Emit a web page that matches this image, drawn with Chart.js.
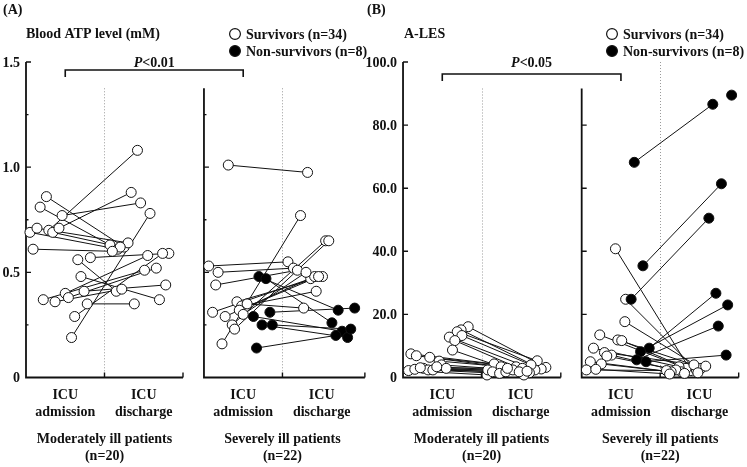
<!DOCTYPE html>
<html><head><meta charset="utf-8">
<script src="https://cdn.jsdelivr.net/npm/chart.js@4/dist/chart.umd.min.js"></script>
<style>html,body{margin:0;padding:0;background:#fff;}canvas{display:block;}</style>
</head><body>
<canvas id="c" width="747" height="467"></canvas>
<script>
// ---------- text ----------
const panelTags = ['(A)', '(B)'];
const panelTitles = ['Blood ATP level (mM)', 'A-LES'];
const pLabels = ['<0.01', '<0.05'];
const legendLabels = ['Survivors (n=34)', 'Non-survivors (n=8)'];
const catLabels = [['ICU', 'admission'], ['ICU', 'discharge']];
const groupLabels = [['Moderately ill patients', '(n=20)'], ['Severely ill patients', '(n=22)']];
const atpTicks = [0, 0.5, 1.0, 1.5];
const atpTickLabels = ['0', '0.5', '1.0', '1.5'];
const atpMinor = [0.25, 0.75, 1.25];
const alesTicks = [0, 20, 40, 60, 80, 100];
const alesTickLabels = ['0', '20.0', '40.0', '60.0', '80.0', '100.0'];

// ---------- data: (A) blood ATP, moderately ill, survivors ----------
// X arrays: horizontal jitter within the category band (band width = 1)
const atpModAdm  = [0.86,0.81,0.77,0.69,0.71,0.70,0.69,0.71,0.61,0.56,0.57,0.48,0.41,0.40,0.38,0.37,0.36,0.35,0.29,0.19];
const atpModDis  = [0.62,0.63,0.83,0.61,0.64,1.08,0.62,0.88,0.60,0.41,0.59,0.37,0.44,0.58,0.52,0.51,0.42,0.35,0.59,0.78];
const atpModAdmX = [0.26,0.18,0.46,0.05,0.14,0.29,0.34,0.42,0.09,0.66,0.82,0.70,0.74,0.50,0.54,0.22,0.37,0.78,0.62,0.58];
const atpModDisX = [0.25,0.07,0.46,0.17,0.30,0.42,0.20,0.34,0.10,0.15,0.82,0.70,0.78,0.55,0.66,0.51,0.22,0.38,0.74,0.58];
// (A) severely ill, survivors
const atpSevSAdm  = [1.01,0.53,0.50,0.44,0.31,0.29,0.25,0.23,0.16,0.36,0.34,0.35,0.32,0.30];
const atpSevSDis  = [0.975,0.55,0.52,0.51,0.47,0.48,0.65,0.65,0.77,0.48,0.41,0.33,0.48,0.50];
const atpSevSAdmX = [0.31,0.06,0.18,0.15,0.11,0.27,0.36,0.39,0.23,0.42,0.48,0.55,0.45,0.50];
const atpSevSDisX = [0.32,0.07,0.14,0.19,0.36,0.41,0.55,0.59,0.23,0.51,0.43,0.27,0.46,0.30];
// (A) severely ill, non-survivors
const atpSevNAdm  = [0.48,0.47,0.29,0.31,0.25,0.25,0.14];
const atpSevNDis  = [0.32,0.26,0.22,0.33,0.19,0.23,0.20];
const atpSevNAdmX = [0.70,0.79,0.63,0.84,0.74,0.87,0.67];
const atpSevNDisX = [0.71,0.63,0.76,0.92,0.83,0.87,0.68];

// ---------- data: (B) A-LES, moderately ill, survivors ----------
const alesModAdm  = [16.1,15.1,14.5,12.8,13.3,11.7,8.7,7.5,6.9,6.4,5.2,2.2,2.6,2.9,2.4,2.4,4.0,2.9,3.1,3.4];
const alesModDis  = [3.2,2.7,5.3,2.4,4.0,1.5,0.8,4.3,3.4,3.4,2.9,0.8,2.4,1.8,1.3,1.8,2.4,1.8,2.9,2.0];
const alesModAdmX = [0.83,0.74,0.69,0.59,0.75,0.66,0.63,0.10,0.17,0.34,0.46,0.07,0.15,0.26,0.32,0.38,0.49,0.55,0.22,0.43];
const alesModDisX = [0.82,0.76,0.71,0.68,0.63,0.61,0.54,0.16,0.25,0.44,0.52,0.07,0.08,0.14,0.23,0.31,0.40,0.48,0.33,0.58];
// (B) severely ill, survivors
const alesSevSAdm  = [40.8,24.8,17.7,13.5,11.9,11.7,9.3,7.9,7.1,6.8,5.0,4.3,2.4,2.6];
const alesSevSDis  = [2.2,2.4,2.9,2.9,4.0,1.5,3.4,3.6,1.8,2.4,1.8,1.3,2.2,1.1];
const alesSevSAdmX = [0.43,0.56,0.55,0.23,0.46,0.51,0.15,0.29,0.38,0.32,0.11,0.25,0.06,0.18];
const alesSevSDisX = [0.39,0.46,0.52,0.33,0.43,0.48,0.24,0.58,0.27,0.20,0.14,0.31,0.08,0.12];
// (B) severely ill, non-survivors (last one: no admission value shown)
const alesSevNAdm  = [68.2,35.4,24.8,9.3,8.2,5.6,5.0,null];
const alesSevNDis  = [86.6,61.4,50.5,26.7,23.0,16.3,7.1,89.5];
const alesSevNAdmX = [0.67,0.78,0.63,0.86,0.75,0.70,0.82,null];
const alesSevNDisX = [0.67,0.78,0.62,0.71,0.86,0.74,0.84,0.91];

// ---------- layout (scale units) ----------
const SUB_OFF = [0, 2.267, 4.803, 7.079];   // left edge of each sub-panel on the x scale
const SUB_END = [2.0, 2.05, 2.01, 2.0];      // bottom-axis length of each sub-panel
const X_MAX = 9.083;

function build(adm, dis, admX, disX, off, yID, filled) {
  const lines = [], admPts = [], disPts = [];
  for (let i = 0; i < dis.length; i++) {
    const a = adm[i] == null ? null : {x: off + admX[i], y: adm[i]};
    const d = {x: off + 1 + disX[i], y: dis[i]};
    if (a) {
      admPts.push(a);
      lines.push({data: [a, d], showLine: true, borderColor: '#111', borderWidth: 1,
        pointRadius: 0, yAxisID: yID, xAxisID: 'x', order: 10, clip: false});
    }
    disPts.push(d);
  }
  const pts = {data: admPts.concat(disPts), showLine: false, pointRadius: 5, pointHoverRadius: 5,
    pointBackgroundColor: filled ? '#000' : '#fff', pointBorderColor: '#111', pointBorderWidth: 1,
    yAxisID: yID, xAxisID: 'x', order: filled ? 1 : 2, clip: false};
  return {lines, pts};
}

const groups = [
  build(atpModAdm, atpModDis, atpModAdmX, atpModDisX, SUB_OFF[0], 'yA', false),
  build(atpSevSAdm, atpSevSDis, atpSevSAdmX, atpSevSDisX, SUB_OFF[1], 'yA', false),
  build(atpSevNAdm, atpSevNDis, atpSevNAdmX, atpSevNDisX, SUB_OFF[1], 'yA', true),
  build(alesModAdm, alesModDis, alesModAdmX, alesModDisX, SUB_OFF[2], 'yB', false),
  build(alesSevSAdm, alesSevSDis, alesSevSAdmX, alesSevSDisX, SUB_OFF[3], 'yB', false),
  build(alesSevNAdm, alesSevNDis, alesSevNAdmX, alesSevNDisX, SUB_OFF[3], 'yB', true)
];
const datasets = [];
groups.forEach(g => datasets.push(...g.lines));
groups.forEach(g => datasets.push(g.pts));

const FONT = "bold 14px 'Liberation Serif', 'Times New Roman', serif";
const FONT_I = "italic bold 14px 'Liberation Serif', 'Times New Roman', serif";
const INK = '#111';

const framePlugin = {
  id: 'frame',
  beforeDatasetsDraw(chart) {
    const ctx = chart.ctx, xs = chart.scales.x, area = chart.chartArea;
    const bottom = area.bottom;
    ctx.save();
    ctx.strokeStyle = INK; ctx.fillStyle = INK;
    const subs = [
      {off: SUB_OFF[0], end: SUB_END[0], y: chart.scales.yA, top: 1.5, major: atpTicks, minor: atpMinor, labels: atpTickLabels, dotTop: 1.375},
      {off: SUB_OFF[1], end: SUB_END[1], y: chart.scales.yA, top: 1.375, major: atpTicks, minor: atpMinor, labels: null, dotTop: 1.375},
      {off: SUB_OFF[2], end: SUB_END[2], y: chart.scales.yB, top: 100, major: alesTicks, minor: [], labels: alesTickLabels, dotTop: 91.6},
      {off: SUB_OFF[3], end: SUB_END[3], y: chart.scales.yB, top: 91.6, major: alesTicks, minor: [], labels: null, dotTop: 100}
    ];
    subs.forEach(s => {
      const x0 = xs.getPixelForValue(s.off);
      const x1 = xs.getPixelForValue(s.off + 1);
      const x2 = xs.getPixelForValue(s.off + s.end);
      const yTop = s.y.getPixelForValue(s.top);
      // dotted divider
      ctx.save();
      ctx.strokeStyle = '#9a9a9a'; ctx.lineWidth = 1; ctx.setLineDash([1, 2]);
      ctx.beginPath(); ctx.moveTo(Math.round(x1) + 0.5, s.y.getPixelForValue(s.dotTop)); ctx.lineTo(Math.round(x1) + 0.5, bottom); ctx.stroke();
      ctx.restore();
      // axes
      ctx.lineWidth = 1.8;
      ctx.beginPath();
      ctx.moveTo(x0, yTop); ctx.lineTo(x0, bottom); ctx.lineTo(x2, bottom);
      ctx.stroke();
      ctx.lineWidth = 1.4;
      ctx.beginPath();
      ctx.moveTo(x1, bottom); ctx.lineTo(x1, bottom - 5);
      ctx.moveTo(x2, bottom); ctx.lineTo(x2, bottom - 5);
      s.major.forEach(v => { if (v > 0 && v <= s.top) { const p = s.y.getPixelForValue(v); ctx.moveTo(x0, p); ctx.lineTo(x0 + 5, p); } });
      s.minor.forEach(v => { if (v <= s.top) { const p = s.y.getPixelForValue(v); ctx.moveTo(x0, p); ctx.lineTo(x0 + 2.5, p); } });
      ctx.stroke();
      if (s.labels) {
        ctx.font = FONT; ctx.textAlign = 'right'; ctx.textBaseline = 'alphabetic';
        s.major.forEach((v, i) => ctx.fillText(s.labels[i], x0 - 6, s.y.getPixelForValue(v) + 4.7));
      }
      // category labels
      ctx.font = FONT; ctx.textAlign = 'center';
      catLabels.forEach((lab, k) => {
        const cx = xs.getPixelForValue(s.off + 0.5 + k);
        ctx.fillText(lab[0], cx, bottom + 21);
        ctx.fillText(lab[1], cx, bottom + 38.5);
      });
    });
    // group labels
    ctx.font = FONT; ctx.textAlign = 'center';
    SUB_OFF.forEach((o, i) => {
      const cx = xs.getPixelForValue(o + 1);
      const g = groupLabels[i % 2];
      ctx.fillText(g[0], cx, bottom + 65);
      ctx.fillText(g[1], cx, bottom + 82);
    });
    // brackets with P values
    [[SUB_OFF[0], SUB_OFF[1], 8], [SUB_OFF[2], SUB_OFF[3], 12]].forEach((b, i) => {
      const xa = xs.getPixelForValue(b[0] + 0.5), xb = xs.getPixelForValue(b[1] + 0.5);
      const yb = area.top + b[2];
      ctx.lineWidth = 1.6;
      ctx.beginPath(); ctx.moveTo(xa, yb + 7); ctx.lineTo(xa, yb); ctx.lineTo(xb, yb); ctx.lineTo(xb, yb + 7); ctx.stroke();
      ctx.font = FONT_I; const wP = ctx.measureText('P').width;
      ctx.font = FONT; const wR = ctx.measureText(pLabels[i]).width;
      const cx = (xa + xb) / 2, sx = cx - (wP + wR) / 2;
      ctx.textAlign = 'left';
      ctx.font = FONT_I; ctx.fillText('P', sx, area.top + 4.7);
      ctx.font = FONT; ctx.fillText(pLabels[i], sx + wP, area.top + 4.7);
    });
    ctx.restore();
  },
  afterDraw(chart) {
    const ctx = chart.ctx;
    ctx.save();
    ctx.fillStyle = INK; ctx.strokeStyle = INK;
    ctx.font = FONT; ctx.textAlign = 'left'; ctx.textBaseline = 'alphabetic';
    const tagX = [3, 367], titleX = [26, 404], legX = [235, 612];
    for (let p = 0; p < 2; p++) {
      ctx.fillText(panelTags[p], tagX[p], 14);
      ctx.fillText(panelTitles[p], titleX[p], 38);
      legendLabels.forEach((t, k) => {
        const cy = 34 + k * 17;
        ctx.beginPath(); ctx.arc(legX[p], cy, 5.4, 0, Math.PI * 2);
        ctx.fillStyle = k === 0 ? '#fff' : '#000'; ctx.fill();
        ctx.lineWidth = 1.2; ctx.stroke();
        ctx.fillStyle = INK;
        ctx.fillText(t, legX[p] + 11, cy + 4.5);
      });
    }
    ctx.restore();
  }
};

new Chart(document.getElementById('c'), {
  type: 'scatter',
  data: {datasets},
  options: {
    responsive: false, animation: false, devicePixelRatio: 1,
    layout: {padding: {left: 26, right: 8, top: 62, bottom: 89.5}},
    scales: {
      x: {type: 'linear', min: 0, max: X_MAX, display: false},
      yA: {type: 'linear', position: 'left', min: 0, max: 1.5, display: false},
      yB: {type: 'linear', position: 'left', min: 0, max: 100, display: false}
    },
    plugins: {legend: {display: false}, tooltip: {enabled: false}},
    events: []
  },
  plugins: [framePlugin]
});
</script>
</body></html>
